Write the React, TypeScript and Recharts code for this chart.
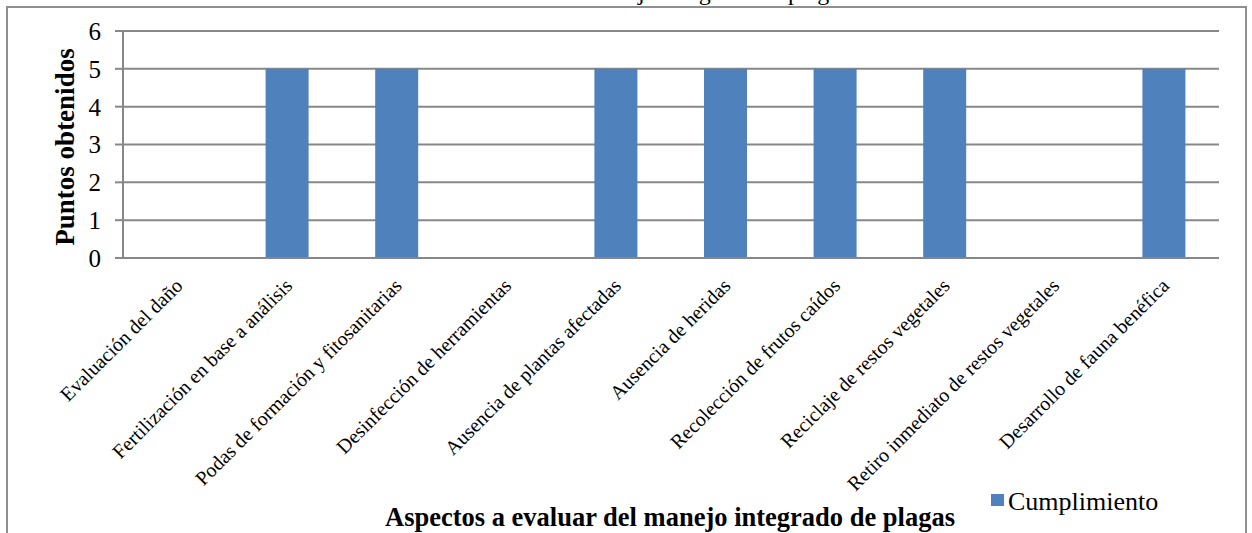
import React from 'react';
import { BarChart, Bar, XAxis, YAxis, CartesianGrid } from 'recharts';

const categories = [
  'Evaluación del daño',
  'Fertilización en base a análisis',
  'Podas de formación y fitosanitarias',
  'Desinfección de herramientas',
  'Ausencia de plantas afectadas',
  'Ausencia de heridas',
  'Recolección de frutos caídos',
  'Reciclaje de restos vegetales',
  'Retiro inmediato de restos vegetales',
  'Desarrollo de fauna benéfica',
];
const cumplimiento = [0, 5, 5, 0, 5, 5, 5, 5, 0, 5];
const yTicks = [0, 1, 2, 3, 4, 5, 6];
const seriesName = 'Cumplimiento';
const chartTitle = 'Evaluación del manejo integrado de plagas';
const yTitle = 'Puntos obtenidos';
const xTitle = 'Aspectos a evaluar del manejo integrado de plagas';

const data = categories.map((name, i) => ({ name, Cumplimiento: cumplimiento[i] }));

const FONT = '"Liberation Serif", "Times New Roman", serif';
const GRID = '#878787';
const BAR = '#4F81BD';

const XTick = (props: any) => {
  const { x, y, payload } = props;
  const px = x + 6;
  const py = y + 29;
  return (
    <text
      x={px}
      y={py}
      transform={`rotate(-45, ${px}, ${py})`}
      textAnchor="end"
      fontSize={20}
      fontFamily={FONT}
      fill="#000"
    >
      {payload.value}
    </text>
  );
};

export default function App() {
  return (
    <div style={{ position: 'absolute', left: 0, top: 0, width: 1252, height: 533, overflow: 'hidden', background: '#fff' }}>
      <svg width={1252} height={533} style={{ position: 'absolute', left: 0, top: 0 }}>
        <rect x={7} y={7} width={1239} height={600} fill="none" stroke="#8f8f8f" strokeWidth={2} />
      </svg>
      <div style={{ position: 'absolute', left: 0, top: 0 }}>
        <BarChart
          width={1252}
          height={533}
          data={data}
          margin={{ top: 31, right: 33, left: 0, bottom: 0 }}
        >
          <CartesianGrid vertical={false} stroke={GRID} strokeWidth={2} />
          <XAxis
            dataKey="name"
            height={275}
            interval={0}
            tickLine={false}
            tickSize={0}
            tickMargin={0}
            axisLine={{ stroke: GRID, strokeWidth: 2 }}
            tick={<XTick />}
          />
          <YAxis
            width={123}
            domain={[0, 6]}
            ticks={yTicks}
            interval={0}
            tickSize={8}
            tickMargin={14}
            tickLine={{ stroke: GRID, strokeWidth: 2 }}
            axisLine={{ stroke: GRID, strokeWidth: 2 }}
            tick={{ fontSize: 25, fontFamily: FONT, fill: '#000' }}
          />
          <Bar dataKey="Cumplimiento" name={seriesName} fill={BAR} barSize={43} isAnimationActive={false} />
        </BarChart>
      </div>
      <svg width={1252} height={533} style={{ position: 'absolute', left: 0, top: 0, pointerEvents: 'none' }}>
        <text x={643} y={0} textAnchor="middle" fontSize={24} fontFamily={FONT} fill="#000">
          {chartTitle}
        </text>
        <text
          x={74}
          y={147}
          transform="rotate(-90, 74, 147)"
          textAnchor="middle"
          fontSize={27}
          fontWeight="bold"
          fontFamily={FONT}
          fill="#000"
        >
          {yTitle}
        </text>
        <text x={670} y={526} textAnchor="middle" fontSize={26.5} fontWeight="bold" fontFamily={FONT} fill="#000">
          {xTitle}
        </text>
        <rect x={991} y={494} width={13} height={12} fill={BAR} />
        <text x={1008} y={510} fontSize={26} fontFamily={FONT} fill="#000">
          {seriesName}
        </text>
      </svg>
    </div>
  );
}
